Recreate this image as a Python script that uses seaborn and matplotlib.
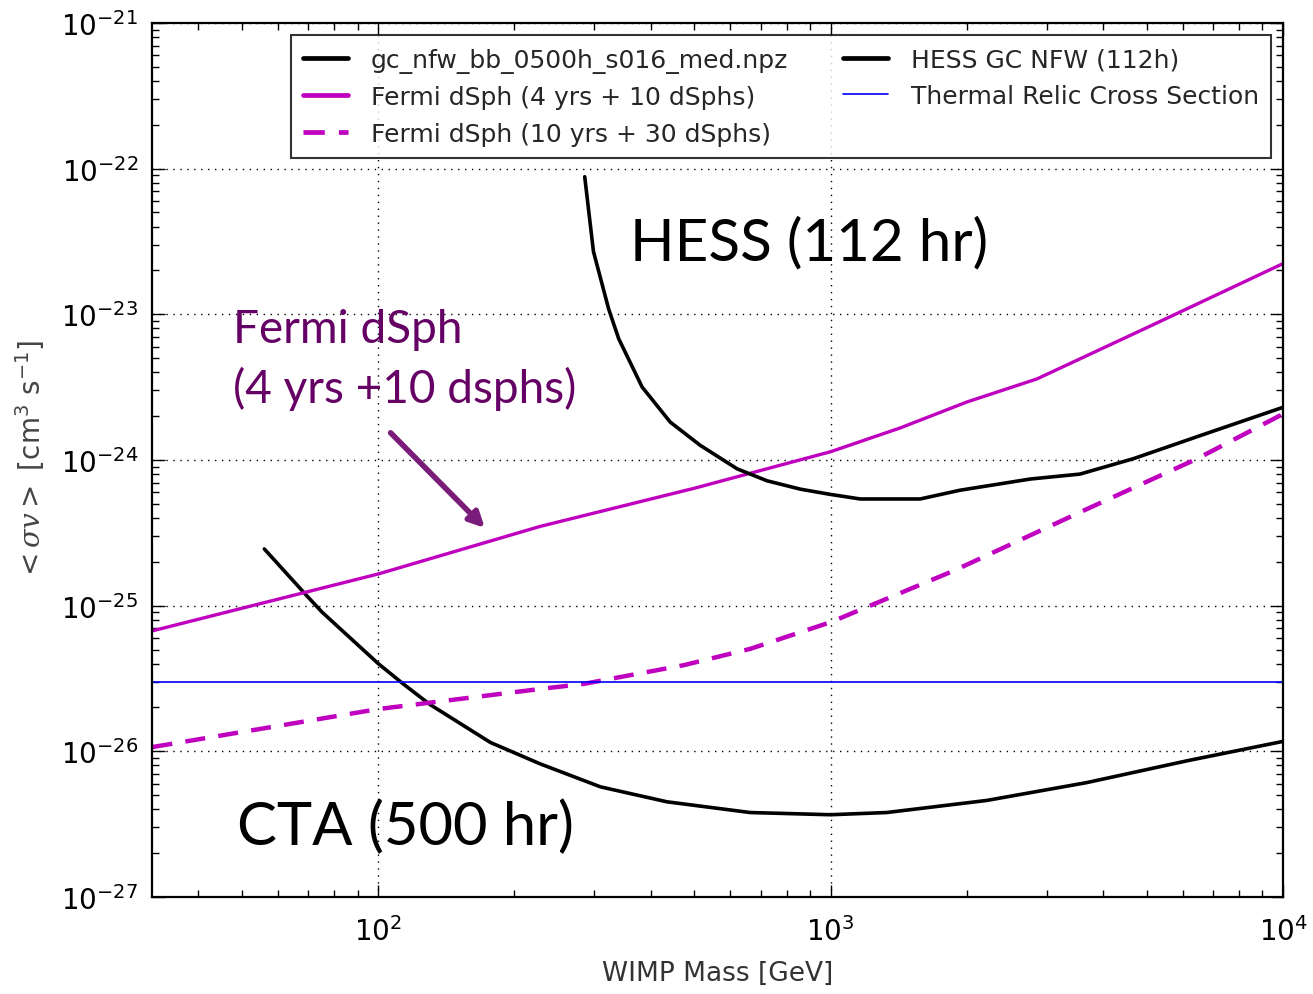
import numpy as np
import pandas as pd
import matplotlib
matplotlib.use("Agg")
import matplotlib.pyplot as plt
import seaborn as sns

# ---- data ----
cta_mass = [56, 69.5, 75.2, 100, 113.6, 130, 177, 228, 310, 435, 664, 1000, 1330, 2213, 3683, 6125, 10000]
cta_sigma = [2.45e-25, 1.17e-25, 9.0e-26, 4.0e-26, 2.9e-26, 2.1e-26, 1.15e-26, 8.2e-27, 5.7e-27,
             4.5e-27, 3.8e-27, 3.67e-27, 3.8e-27, 4.6e-27, 6.1e-27, 8.6e-27, 1.17e-26]

fermi4_mass = [31.6, 50, 100, 228, 500, 1000, 1425, 2000, 2857, 5000, 10000]
fermi4_sigma = [6.7e-26, 9.6e-26, 1.65e-25, 3.5e-25, 6.4e-25, 1.14e-24, 1.66e-24, 2.5e-24,
                3.6e-24, 8.1e-24, 2.23e-23]

fermi10_mass = [31.7, 100, 228, 284, 473, 664, 1000, 1874, 3683, 6457, 10000]
fermi10_sigma = [1.07e-26, 1.95e-26, 2.68e-26, 2.9e-26, 3.9e-26, 5.05e-26, 7.7e-26, 1.74e-25,
                 4.6e-25, 1.02e-24, 2.07e-24]

hess_mass = [286, 299, 323, 340, 383, 442, 515, 621, 723, 858, 1000, 1162, 1577, 1932, 2761,
             3556, 4666, 6560, 10000]
hess_sigma = [8.8e-23, 2.7e-23, 1.09e-23, 6.8e-24, 3.17e-24, 1.82e-24, 1.26e-24, 8.7e-25, 7.2e-25,
              6.3e-25, 5.8e-25, 5.4e-25, 5.4e-25, 6.2e-25, 7.4e-25, 8.0e-25, 1.02e-24, 1.47e-24, 2.3e-24]

thermal_mass = [31.6, 10000]
thermal_sigma = [3e-26, 3e-26]

labels = ["gc_nfw_bb_0500h_s016_med.npz", "Fermi dSph (4 yrs + 10 dSphs)",
          "Fermi dSph (10 yrs + 30 dSphs)", "HESS GC NFW (112h)", "Thermal Relic Cross Section"]

sns.set_style("ticks")
plt.rcParams['font.family'] = ['DejaVu Sans']
plt.rcParams['mathtext.fontset'] = 'custom'
plt.rcParams['mathtext.rm'] = 'DejaVu Sans'
plt.rcParams['mathtext.sf'] = 'DejaVu Sans'
plt.rcParams['mathtext.it'] = 'DejaVu Serif:italic'
plt.rcParams['axes.unicode_minus'] = False

fig = plt.figure(figsize=(13.13, 9.95), dpi=100)
ax = fig.add_axes([0.1158, 0.0975, 0.8614, 0.8784])
ax.set_xscale('log')
ax.set_yscale('log')

magenta = (0.75, 0, 0.75)
sns.lineplot(x=cta_mass, y=cta_sigma, ax=ax, color='black', lw=2.6, label=labels[0], sort=False)
sns.lineplot(x=fermi4_mass, y=fermi4_sigma, ax=ax, color=magenta, lw=2.4, label=labels[1], sort=False)
sns.lineplot(x=fermi10_mass, y=fermi10_sigma, ax=ax, color=magenta, lw=3.2, label=labels[2], sort=False)
ax.lines[-1].set_dashes([4.5, 3])
sns.lineplot(x=hess_mass, y=hess_sigma, ax=ax, color='black', lw=2.6, label=labels[3], sort=False)
sns.lineplot(x=thermal_mass, y=thermal_sigma, ax=ax, color=(0, 0, 1), lw=1.2, label=labels[4], sort=False)

ax.set_xlim(10**1.5, 1e4)
ax.set_ylim(1e-27, 1e-21)

ax.grid(True, which='major', color='black', linestyle=(0, (1, 4)), linewidth=1.0)
ax.tick_params(which='both', direction='in', top=True, right=True, labelsize=20, colors='black')
ax.tick_params(which='major', length=9, width=1.0)
ax.tick_params(which='minor', length=5, width=1.0)
ax.tick_params(axis='x', which='major', pad=14)
ax.tick_params(axis='y', which='major', pad=10)
for sp in ax.spines.values():
    sp.set_linewidth(1.6)
    sp.set_color('black')

ax.set_xlabel("WIMP Mass [GeV]", fontsize=19, color='#333333', labelpad=10)
ax.set_ylabel(r"$<\sigma v>$ [cm$^3$ s$^{-1}$]", fontsize=20, color='#444444', labelpad=10)

leg = ax.legend(loc='upper right', bbox_to_anchor=(0.9895, 0.986), ncol=2, fontsize=18,
                frameon=True, fancybox=False, edgecolor='black', borderaxespad=0,
                handlelength=1.8, handletextpad=0.9, columnspacing=2.2, labelspacing=0.5,
                borderpad=0.5)
leg.get_frame().set_linewidth(1.5)
for h in leg.get_lines()[:4]:
    h.set_linewidth(3.4)

ax.text(10**2.557, 10**-22.62, "HESS (112 hr)", fontsize=42, family=['Lato', 'DejaVu Sans'], color='black')
ax.text(10**1.688, 10**-26.635, "CTA (500 hr)", fontsize=43, family=['Lato', 'DejaVu Sans'], color='black')
ax.text(10**1.680, 10**-23.60, "Fermi dSph\n(4 yrs +10 dsphs)", fontsize=33, family=['Lato', 'DejaVu Sans'],
        color='#650065', linespacing=1.42)
ax.annotate("", xy=(10**2.240, 10**-24.48), xytext=(10**2.023, 10**-23.80),
            arrowprops=dict(arrowstyle='-|>,head_length=0.9,head_width=0.45', color='#7a1c7a', lw=4))

fig.savefig("out.png", dpi=100)
